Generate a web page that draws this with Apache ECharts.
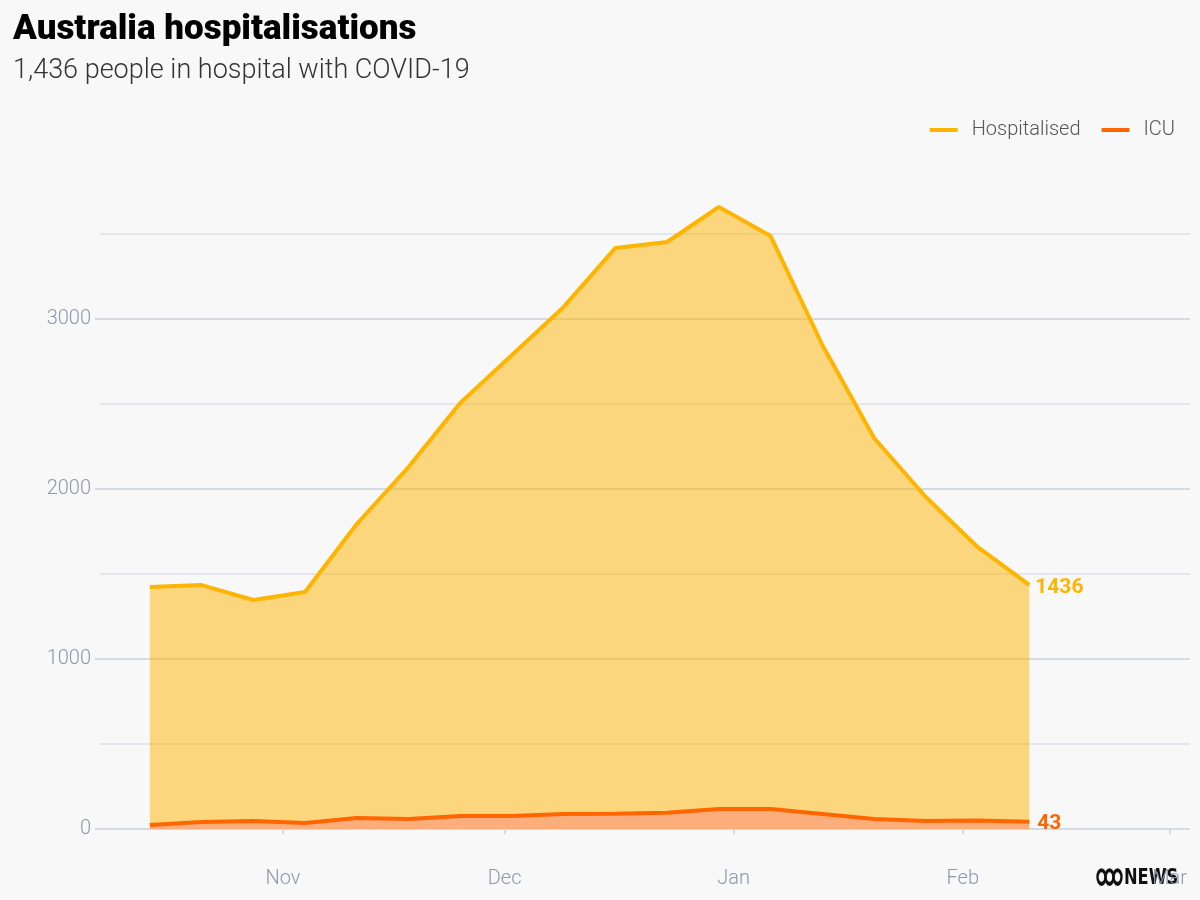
<!DOCTYPE html>
<html>
<head>
    <meta charset="UTF-8">
    <title>Australia hospitalisations</title>
    <style>
        * {
            margin: 0;
            padding: 0
        }

        body {
            background: #f8f8f8;
        }

        #chart {
            width: 1200px;
            height: 900px;
        }
    </style>
</head>
<body>
<div id="chart"></div>
<script type="text/javascript" src="https://cdn.jsdelivr.net/npm/echarts@6/dist/echarts.min.js"></script>
<script type="text/javascript">
    // weekly report dates
    var dates = ['2022-10-14', '2022-10-21', '2022-10-28', '2022-11-04', '2022-11-11', '2022-11-18',
        '2022-11-25', '2022-12-02', '2022-12-09', '2022-12-16', '2022-12-23', '2022-12-30',
        '2023-01-06', '2023-01-13', '2023-01-20', '2023-01-27', '2023-02-03', '2023-02-10'];
    var hospitalised = [1424, 1435, 1347, 1394, 1794, 2129, 2506, 2788, 3071, 3418, 3453, 3659,
        3488, 2847, 2300, 1953, 1659, 1436];
    var icu = [24, 41, 47, 35, 65, 59, 76, 76, 88, 90, 96, 118, 117, 88, 59, 47, 50, 43];
    var monthTicks = ['2022-11-01', '2022-12-01', '2023-01-01', '2023-02-01', '2023-03-01'];
    var monthNames = ['Jan', 'Feb', 'Mar', 'Apr', 'May', 'Jun', 'Jul', 'Aug', 'Sep', 'Oct', 'Nov', 'Dec'];

    var font = 'Roboto, "Noto Sans", sans-serif';

    // 'yyyy-mm-dd' -> timestamp (local)
    function ts(s, hour) {
        var p = s.split('-');
        return new Date(+p[0], +p[1] - 1, +p[2], hour || 0).getTime();
    }

    function pairs(vals) {
        var out = [];
        for (var i = 0; i < dates.length; i++) {
            out.push([ts(dates[i]), vals[i]]);
        }
        return out;
    }

    var tickValues = monthTicks.map(function (d) {
        return ts(d);
    });

    var myChart = echarts.init(document.getElementById('chart'));
    var option = {
        backgroundColor: '#f8f8f8',
        animation: false,
        title: {
            text: 'Australia hospitalisations',
            subtext: '1,436 people in hospital with COVID-19',
            left: 8,
            top: 8,
            itemGap: 10,
            textStyle: {
                fontFamily: font,
                fontSize: 35,
                fontWeight: 900,
                color: '#000'
            },
            subtextStyle: {
                fontFamily: font,
                fontSize: 27,
                fontWeight: 300,
                color: '#333'
            }
        },
        legend: {
            right: 20,
            top: 115,
            icon: 'rect',
            itemWidth: 28,
            itemHeight: 4,
            itemGap: 21,
            textStyle: {
                fontFamily: font,
                fontSize: 20,
                fontWeight: 300,
                color: '#555',
                padding: [0, 0, 0, 9]
            },
            data: ['Hospitalised', 'ICU']
        },
        grid: {
            left: 100,
            right: 10,
            top: 234,
            bottom: 71
        },
        xAxis: {
            type: 'value',
            min: ts('2022-10-07', 6),
            max: ts('2023-03-03', 18),
            offset: 32,
            axisLine: {show: false},
            axisTick: {
                show: true,
                length: 5,
                customValues: tickValues,
                lineStyle: {color: '#d5dae3', width: 2}
            },
            axisLabel: {
                customValues: tickValues,
                margin: 8,
                fontFamily: font,
                fontSize: 20,
                fontWeight: 300,
                color: '#8d98ab',
                formatter: function (v) {
                    return monthNames[new Date(v).getMonth()];
                }
            },
            splitLine: {show: false}
        },
        yAxis: [
            {
                // every 500: the grid lines, light and dark in turn
                type: 'value',
                min: 0,
                max: 3500,
                interval: 500,
                axisLine: {show: false},
                axisTick: {show: false},
                axisLabel: {show: false},
                splitLine: {
                    lineStyle: {
                        color: ['#d5dae3', '#e3e6eb'],
                        width: 2
                    }
                }
            },
            {
                // labelled every 1000 with a short tick
                type: 'value',
                position: 'left',
                offset: 0,
                min: 0,
                max: 3500,
                interval: 1000,
                axisLine: {show: false},
                axisTick: {
                    show: true,
                    length: 5,
                    lineStyle: {color: '#d5dae3', width: 2}
                },
                axisLabel: {
                    margin: 9,
                    showMaxLabel: false,
                    fontFamily: font,
                    fontSize: 20,
                    fontWeight: 300,
                    color: '#8d98ab',
                    formatter: function (v) {
                        return v % 1000 === 0 ? String(v) : '';
                    }
                },
                splitLine: {show: false}
            }
        ],
        series: [
            {
                name: 'Hospitalised',
                type: 'line',
                data: pairs(hospitalised),
                symbol: 'none',
                clip: false,
                color: '#ffb400',
                lineStyle: {width: 4, color: '#ffb400'},
                areaStyle: {color: '#ffb400', opacity: 0.5},
                endLabel: {
                    show: true,
                    distance: 6,
                    offset: [0, 3],
                    fontFamily: font,
                    fontSize: 21,
                    fontWeight: 'bold',
                    color: '#ffb400',
                    formatter: function (p) {
                        return p.value[1];
                    }
                }
            },
            {
                name: 'ICU',
                type: 'line',
                data: pairs(icu),
                symbol: 'none',
                clip: false,
                color: '#ff6600',
                lineStyle: {width: 4, color: '#ff6600'},
                areaStyle: {color: '#fbae7c', opacity: 1},
                endLabel: {
                    show: true,
                    distance: 8,
                    offset: [0, 2],
                    fontFamily: font,
                    fontSize: 21,
                    fontWeight: 'bold',
                    color: '#ff6600',
                    formatter: function (p) {
                        return p.value[1];
                    }
                }
            }
        ],
        graphic: [
            {
                type: 'group',
                left: 1095,
                top: 866,
                z: 100,
                children: [
                    {type: 'circle', shape: {cx: 4.5, cy: 9.5, r: 4}, scaleY: 1.7, originY: 9.5, style: {fill: 'none', stroke: '#111', lineWidth: 2.4}},
                    {type: 'circle', shape: {cx: 12.5, cy: 9.5, r: 4}, scaleY: 1.7, originY: 9.5, style: {fill: 'none', stroke: '#111', lineWidth: 2.4}},
                    {type: 'circle', shape: {cx: 20.5, cy: 9.5, r: 4}, scaleY: 1.7, originY: 9.5, style: {fill: 'none', stroke: '#111', lineWidth: 2.4}},
                    {
                        type: 'text',
                        x: 27,
                        y: 0,
                        scaleX: 0.82,
                        style: {
                            text: 'NEWS',
                            fontFamily: '"Liberation Sans Narrow", "DejaVu Sans Condensed", sans-serif',
                            fontSize: 22,
                            fontWeight: 'bold',
                            fill: '#111'
                        }
                    }
                ]
            }
        ]
    };
    myChart.setOption(option);
</script>
</body>
</html>
